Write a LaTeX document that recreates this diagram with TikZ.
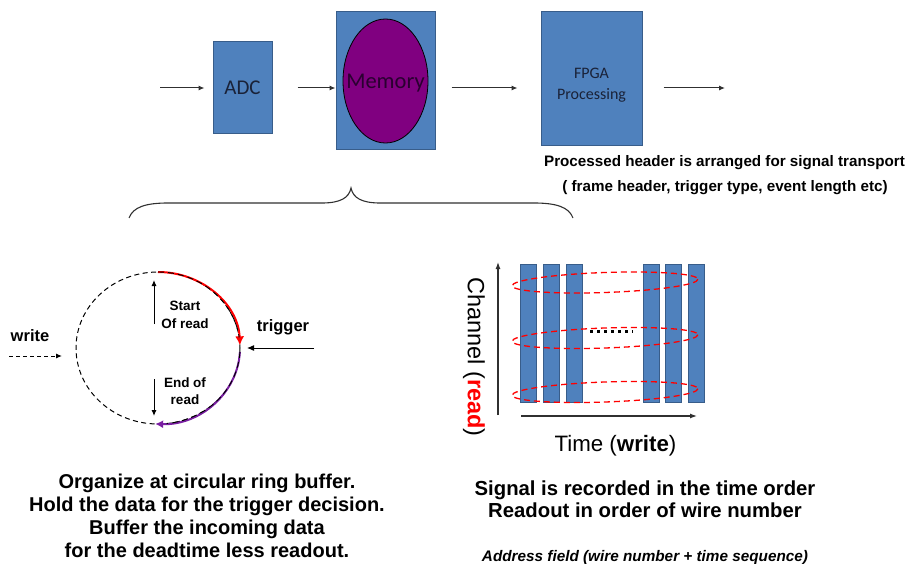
\documentclass[tikz,border=0pt]{standalone}
\usepackage{fontspec}
\setmainfont{Liberation Sans}
\newfontfamily\calibfont{Carlito}
\usetikzlibrary{arrows.meta,shapes.geometric}
\definecolor{boxblue}{HTML}{4F81BD}
\definecolor{boxedge}{HTML}{385D8A}
\definecolor{mempurple}{HTML}{800080}
\definecolor{ringpurple}{HTML}{7A1FA2}
\definecolor{boxtext}{HTML}{1A2238}
\definecolor{memtext}{HTML}{2A0030}
\definecolor{arrowgray}{HTML}{303030}
\begin{document}
\begin{tikzpicture}[x=1pt,y=-1pt,
  block/.style={draw=boxedge, fill=boxblue, line width=1pt, inner sep=0pt, text=boxtext, font=\calibfont},
  flow/.style={draw=arrowgray, line width=1pt, -{Latex[length=6pt,width=5pt]}},
  note/.style={font=\bfseries, align=center, inner sep=0pt},
  lbl/.style={font=\bfseries, align=center, inner sep=0pt},
  ringdash/.style={dash pattern=on 5pt off 3.5pt, line width=1pt},
  reddash/.style={draw=red, dash pattern=on 6pt off 4pt, line width=1.3pt},
  bar/.style={draw=boxedge, fill=boxblue, line width=0.8pt, inner sep=0pt, minimum width=16pt, minimum height=138pt},
  axis/.style={draw=arrowgray, line width=1.2pt, -{Latex[length=7pt,width=5pt]}}]
\useasboundingbox (0,0) rectangle (910,564);
% ---------- top chain ----------
\node[block, minimum width=59pt, minimum height=92pt, font=\calibfont\fontsize{21}{23}\selectfont] (adc) at (242.5,88) {ADC};
\node[block, minimum width=99pt, minimum height=138pt] (mem) at (385.5,81) {};
\node[ellipse, draw=black, line width=0.8pt, fill=mempurple, minimum width=85pt, minimum height=124pt, inner sep=0pt] (memell) at (385.5,81) {};
\node[inner sep=0pt, text=memtext, font=\calibfont\fontsize{22.5}{24}\selectfont] (memlbl) at (385.5,83) {Memory};
\node[block, minimum width=101pt, minimum height=134pt] (fpga) at (591.5,79) {};
\node[inner sep=0pt, align=center, text=boxtext, font=\calibfont\fontsize{16}{21}\selectfont] (fpgalbl) at (591.5,85) {FPGA\\Processing};
\coordinate (in0) at (160,88);
\coordinate (out0) at (725,88);
\draw[flow, shorten >=8pt] (in0) -- (adc.west);
\draw[flow, shorten <=25pt] (adc.east) -- (adc.east -| mem.west);
\draw[flow, shorten <=16pt, shorten >=23pt] (mem.east |- adc.east) -- (fpga.west |- adc.east);
\draw[flow, shorten <=21pt] (fpga.east |- adc.east) -- (out0);
\node[note, font=\bfseries\fontsize{15.2}{17}\selectfont] (hdr1) at (724.5,163) {Processed header is arranged for signal transport};
\node[note, font=\bfseries\fontsize{15.2}{17}\selectfont] (hdr2) at (725,188) {( frame header, trigger type, event length etc)};
% ---------- brace ----------
\draw[line width=1.1pt, draw=arrowgray] (129,218) .. controls (133,207) and (146,203) .. (168,203) -- (322,203)
  .. controls (340,203) and (349,198) .. (351,188)
  .. controls (353,198) and (362,203) .. (380,203) -- (534,203)
  .. controls (556,203) and (569,207) .. (573,218);
% ---------- ring buffer ----------
\coordinate (rc) at (158,348);
\draw[ringdash] (rc) ellipse [x radius=82, y radius=76];
\draw[red, line width=2pt, -{Latex[length=9pt,width=9pt]}] ([shift={(-90:82 and 76)}]rc) arc[start angle=-90, end angle=-2, x radius=82, y radius=76];
\draw[black, dash pattern=on 6pt off 4pt, line width=0.9pt] ([shift={(-90:82 and 76)}]rc) arc[start angle=-90, end angle=-8, x radius=82, y radius=76];
\draw[ringpurple, line width=2pt, -{Latex[length=8pt,width=8pt]}] ([shift={(3:82 and 76)}]rc) arc[start angle=3, end angle=92, x radius=82, y radius=76];
\draw[black, dash pattern=on 6pt off 4pt, line width=0.9pt] ([shift={(3:82 and 76)}]rc) arc[start angle=3, end angle=84, x radius=82, y radius=76];
\coordinate (sr0) at (154,324);
\coordinate (sr1) at (154,280);
\coordinate (er0) at (154,379);
\coordinate (er1) at (154,416);
\draw[draw=black, line width=1pt, -{Latex[length=6pt,width=5pt]}] (sr0) -- (sr1);
\draw[draw=black, line width=1pt, -{Latex[length=6pt,width=5pt]}] (er0) -- (er1);
\node[lbl, font=\bfseries\fontsize{13.5}{17.5}\selectfont] (startread) at (185,315) {Start\\Of read};
\node[lbl, font=\bfseries\fontsize{13.5}{17.5}\selectfont] (endread) at (185,391) {End of\\read};
\node[lbl, font=\bfseries\fontsize{16.5}{18}\selectfont] (trig) at (283,327) {trigger};
\coordinate (trig0) at (314,348);
\coordinate (trig1) at (247,348);
\draw[draw=black, line width=1pt, -{Latex[length=7pt,width=6pt]}] (trig0) -- (trig1);
\node[lbl, font=\bfseries\fontsize{16.5}{18}\selectfont] (wr) at (30,336) {write};
\coordinate (wr0) at (9,356);
\coordinate (wr1) at (62,356);
\draw[draw=black, line width=1pt, dash pattern=on 4pt off 3pt, -{Latex[length=6pt,width=5pt]}] (wr0) -- (wr1);
% ---------- channel/time matrix ----------
\foreach \i/\x in {1/528,2/551,3/574,4/651,5/673,6/696}{
  \node[bar] (b\i) at (\x,333) {};
}
\foreach \y in {282.5,338,392}{
  \draw[reddash, rotate around={2:(605,\y)}] (605,\y) ellipse [x radius=93, y radius=10];
}
\node[inner sep=0pt] (dots) at (611,331) {};
\draw[line width=3pt, dash pattern=on 3pt off 4pt] ([xshift=-21pt]dots.center) -- ([xshift=22pt]dots.center);
\coordinate (ax0) at (498,415);
\coordinate (axy) at (498,262);
\coordinate (axx0) at (521,416);
\coordinate (axx) at (697,416);
\draw[axis] (ax0) -- (axy);
\draw[axis] (axx0) -- (axx);
\node[rotate=-90, inner sep=0pt, font=\fontsize{23.5}{26}\selectfont] (chan) at (474,357) {Channel (\textcolor{red}{\textbf{read}})};
\node[inner sep=0pt, font=\fontsize{22.3}{25}\selectfont] (time) at (615.5,446) {Time (\textbf{write})};
% ---------- bottom notes ----------
\node[note, font=\bfseries\fontsize{20}{23}\selectfont] (leftnote) at (207,516) {Organize at circular ring buffer.\\Hold the data for the trigger decision.\\Buffer the incoming data\\for the deadtime less readout.};
\node[note, font=\bfseries\fontsize{20.3}{21.5}\selectfont] (rightnote) at (645,499) {Signal is recorded in the time order\\Readout in order of wire number};
\node[note, font=\bfseries\itshape\fontsize{15.3}{17}\selectfont] (addr) at (645,558) {Address field (wire number + time sequence)};
\end{tikzpicture}
\end{document}
